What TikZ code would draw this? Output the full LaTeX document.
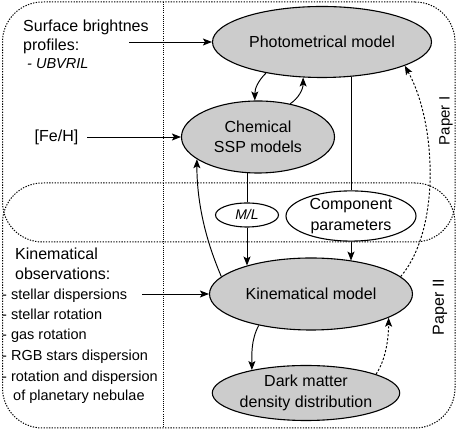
\documentclass[tikz,border=0pt]{standalone}
\usepackage{fontspec}
\setmainfont{Liberation Sans}
\usetikzlibrary{shapes.geometric,arrows.meta}
\definecolor{modelgray}{RGB}{204,204,204}
\tikzset{
  model/.style={ellipse, draw, line width=1.1pt, fill=modelgray, inner sep=0pt, align=center, font=\fontsize{16}{20.5}\selectfont},
  plainell/.style={ellipse, draw, line width=1.1pt, fill=white, inner sep=0pt, align=center, font=\fontsize{16}{21}\selectfont},
  region/.style={draw, rectangle, rounded corners=40pt, line width=1pt, dash pattern=on 1.3pt off 1.4pt, inner sep=0pt, outer sep=0pt},
  vline/.style={line width=0.8pt, dash pattern=on 0.9pt off 1.2pt},
  conn/.style={line width=0.95pt, -{Stealth[length=9pt,width=7pt,inset=2pt]}},
  dconn/.style={conn, dash pattern=on 2.2pt off 1.8pt},
  plainline/.style={line width=0.95pt},
  txt/.style={inner sep=0pt, anchor=base west, font=\fontsize{16}{20}\selectfont},
  listtxt/.style={inner sep=0pt, anchor=base west, font=\fontsize{14.5}{20}\selectfont},
  paperlbl/.style={inner sep=0pt, rotate=90},
}
\begin{document}
\begin{tikzpicture}[x=1pt,y=1pt]
\useasboundingbox (0,0) rectangle (458,430);
% regions
\node[region, minimum width=452.5pt, minimum height=240pt] (p1) at (228.75,308) {};
\node[region, minimum width=452.5pt, minimum height=245pt] (p2) at (228.75,124.5) {};
\draw[vline] (163,0 |- p1.north) -- (163,0 |- p2.south);
\node[paperlbl, font=\fontsize{15}{18}\selectfont] (l1) at (446,309) {Paper I};
\node[paperlbl, font=\fontsize{16}{19}\selectfont] (l2) at (440,123) {Paper II};

% model nodes
\node[model, minimum width=219pt, minimum height=71pt] (photo) at (322,388) {Photometrical model};
\node[model, minimum width=153pt, minimum height=72pt] (chem) at (258,293) {Chemical\\SSP models};
\node[plainell, minimum width=63pt, minimum height=24pt, font=\fontsize{14}{16}\selectfont\itshape] (ml) at (247,215) {M/L};
\node[plainell, minimum width=130pt, minimum height=48pt] (comp) at (351,214) {Component\\parameters};
\node[model, minimum width=203pt, minimum height=72pt] (kin) at (311,136) {Kinematical model};
\node[model, minimum width=177pt, minimum height=55pt] (dm) at (306,37) {Dark matter\\density distribution};

% left texts
\node[txt] (sb1) at (23,398) {Surface brightnes};
\node[txt] (sb2) at (23,379) {profiles:};
\node[listtxt, font=\fontsize{14.5}{18}\selectfont\itshape] (sb3) at (27,361.5) {- UBVRIL};
\node[inner xsep=8.7pt, inner ysep=2pt, font=\fontsize{16}{20}\selectfont] (feh) at (56.5,293) {[Fe/H]};
\node[txt] (ko1) at (15,170) {Kinematical};
\node[txt] (ko2) at (15,150) {observations:};
\node[listtxt] (o1) at (2,130) {- stellar dispersions};
\node[listtxt] (o2) at (2,110) {- stellar rotation};
\node[listtxt] (o3) at (2,90) {- gas rotation};
\node[listtxt] (o4) at (2,69.3) {- RGB stars dispersion};
\node[listtxt] (o5) at (2,48.3) {- rotation and dispersion};
\node[listtxt] (o6) at (13,29.3) {of planetary nebulae};

\coordinate (s1) at (129,388);
\coordinate (k1) at (142,136);

% connectors
\draw[conn] (s1) -- (photo.west);
\draw[conn] (feh.east) -- (chem.west);
\draw[conn] (k1) -- (kin.west);
\draw[conn] (photo.209) .. controls +(-8,-8) and +(0,12) .. (chem.95);
\draw[conn] (chem.46) .. controls +(8,5) and +(0,-12) .. (photo.242);
\draw[plainline] (comp.north) -- (comp.north |- photo.-49.6);
\draw[conn] (comp.south) -- (comp.south |- kin.39.6);
\draw[plainline] (ml.north) -- (ml.north |- chem.252.8);
\draw[conn] (ml.south) -- (ml.south |- kin.156.4);
\draw[conn] (kin.169) .. controls +(-15,35) and +(0,-45) .. (chem.200);
\draw[conn] (kin.211) .. controls +(-8,-15) and +(0,15) .. (dm.157);
\draw[dconn] (dm.15) .. controls +(10,15) and +(0,-20) .. (kin.-17.5);
\draw[dconn] (kin.11) .. controls +(40,47) and +(32,-58) .. (photo.-16.4);
\end{tikzpicture}
\end{document}
